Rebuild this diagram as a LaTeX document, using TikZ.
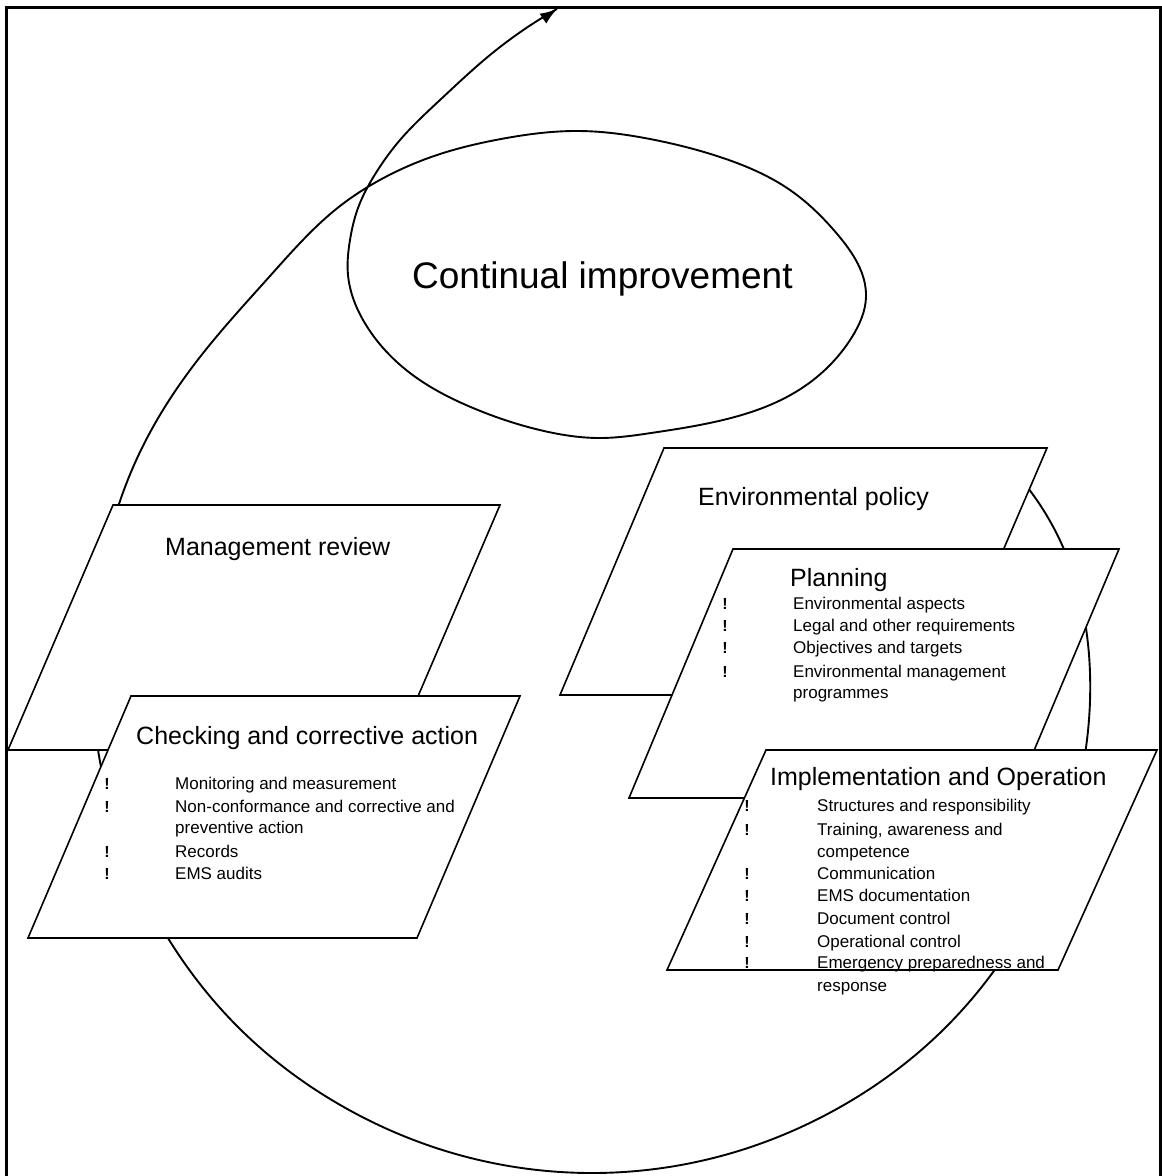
\documentclass[tikz,border=0pt]{standalone}
\usepackage{fontspec}
\setmainfont{Liberation Sans}
\usetikzlibrary{arrows.meta,hobby}
\begin{document}
\begin{tikzpicture}[x=1pt,y=-1pt,
  box/.style={draw=black,fill=white,line width=1.6pt,line join=miter},
  loopline/.style={draw=black,line width=1.9pt},
  frameline/.style={draw=black,line width=3pt},
  titletext/.style={font=\fontsize{37}{44}\selectfont,anchor=base west,inner sep=0pt},
  head/.style={font=\fontsize{25}{30}\selectfont,anchor=base west,inner sep=0pt},
  item/.style={font=\fontsize{17}{20}\selectfont,anchor=base west,inner sep=0pt},
  bul/.style={font=\fontsize{16}{18}\selectfont\bfseries,anchor=base,inner sep=0pt},
]
\useasboundingbox (0,0) rectangle (1162,1176);
% frame (open at bottom)
\coordinate (fbl) at (6,1176);
\coordinate (ftl) at (6,7);
\coordinate (ftr) at (1160,7);
\coordinate (fbr) at (1160,1176);
\draw[frameline] (fbl) -- (ftl) -- (ftr) -- (fbr);

% spiral with the continual improvement loop
\draw[loopline,use Hobby shortcut]
 (1028,488) .. (1063,547) .. (1090,673) .. (1075,802) .. (1025,923) ..
 (946,1027) .. (842,1106) .. (721,1156) .. (592,1173) .. (463,1156) ..
 (342,1106) .. (238,1027) .. (159,923) .. (109,802) .. (92,673) ..
 (106,550) .. (140,452) .. (200,357) .. (270,276) .. (340,206) ..
 (378,181) .. (437,155) .. (501,139) ..
 (580,131) .. (650,139) .. (723,158) .. (790,190) .. (838,235) ..
 (866,297) .. (852,337) .. (828,367) .. (794,393) .. (723,420) ..
 (651,433) .. (601,438) .. (544,431) .. (473,408) .. (410,373) ..
 (366,325) .. (348,275) .. (350,240) .. (358,208) .. (374,176) ..
 (400,140) .. (440,100) .. (490,55) .. (557,9);
\coordinate (tailA) at (543,18.6);
\coordinate (tipA) at (557,9);
\draw[loopline,-{Latex[length=17pt,width=12pt]}] (tailA) -- (tipA);
\node[titletext] (ci) at (412,288) {Continual improvement};

% Management review
\coordinate (m1) at (113,505); \coordinate (m2) at (500,505);
\coordinate (m3) at (395,750); \coordinate (m4) at (8,750);
\draw[box] (m1) -- (m2) -- (m3) -- (m4) -- cycle;
\node[head] (mr) at (165,555) {Management review};

% Checking and corrective action
\coordinate (c1) at (131,696); \coordinate (c2) at (520,696);
\coordinate (c3) at (417,938); \coordinate (c4) at (28,938);
\draw[box] (c1) -- (c2) -- (c3) -- (c4) -- cycle;
\node[head] (ch) at (136,744) {Checking and corrective action};
\node[bul] (cb1) at (107,789) {!};
\node[item] (ct1) at (175,789) {Monitoring and measurement};
\node[bul] (cb2) at (107,812) {!};
\node[item] (ct2) at (175,812) {Non-conformance and corrective and};
\node[item] (ct2b) at (175,833) {preventive action};
\node[bul] (cb3) at (107,857) {!};
\node[item] (ct3) at (175,857) {Records};
\node[bul] (cb4) at (107,879) {!};
\node[item] (ct4) at (175,879) {EMS audits};

% Environmental policy
\coordinate (e1) at (664,448); \coordinate (e2) at (1047,448);
\coordinate (e3) at (941,695); \coordinate (e4) at (560,695);
\draw[box] (e1) -- (e2) -- (e3) -- (e4) -- cycle;
\node[head] (ep) at (698,505) {Environmental policy};

% Planning
\coordinate (p1) at (733,549); \coordinate (p2) at (1119,549);
\coordinate (p3) at (1014,798); \coordinate (p4) at (629,798);
\draw[box] (p1) -- (p2) -- (p3) -- (p4) -- cycle;
\node[head] (pl) at (790,586) {Planning};
\node[bul] (pb1) at (725,609) {!};
\node[item] (pt1) at (793,609) {Environmental aspects};
\node[bul] (pb2) at (725,631) {!};
\node[item] (pt2) at (793,631) {Legal and other requirements};
\node[bul] (pb3) at (725,653) {!};
\node[item] (pt3) at (793,653) {Objectives and targets};
\node[bul] (pb4) at (725,677) {!};
\node[item] (pt4) at (793,677) {Environmental management};
\node[item] (pt4b) at (793,698) {programmes};

% Implementation and Operation
\coordinate (i1) at (766,750); \coordinate (i2) at (1157,750);
\coordinate (i3) at (1058,970); \coordinate (i4) at (667,970);
\draw[box] (i1) -- (i2) -- (i3) -- (i4) -- cycle;
\node[head] (io) at (770,785) {Implementation and Operation};
\node[bul] (ib1) at (747,811) {!};
\node[item] (it1) at (817,811) {Structures and responsibility};
\node[bul] (ib2) at (747,835) {!};
\node[item] (it2) at (817,835) {Training, awareness and};
\node[item] (it2b) at (817,857) {competence};
\node[bul] (ib3) at (747,879) {!};
\node[item] (it3) at (817,879) {Communication};
\node[bul] (ib4) at (747,901) {!};
\node[item] (it4) at (817,901) {EMS documentation};
\node[bul] (ib5) at (747,924) {!};
\node[item] (it5) at (817,924) {Document control};
\node[bul] (ib6) at (747,947) {!};
\node[item] (it6) at (817,947) {Operational control};
\node[bul] (ib7) at (747,968) {!};
\node[item] (it7) at (817,968) {Emergency preparedness and};
\node[item] (it7b) at (817,991) {response};
\end{tikzpicture}
\end{document}
